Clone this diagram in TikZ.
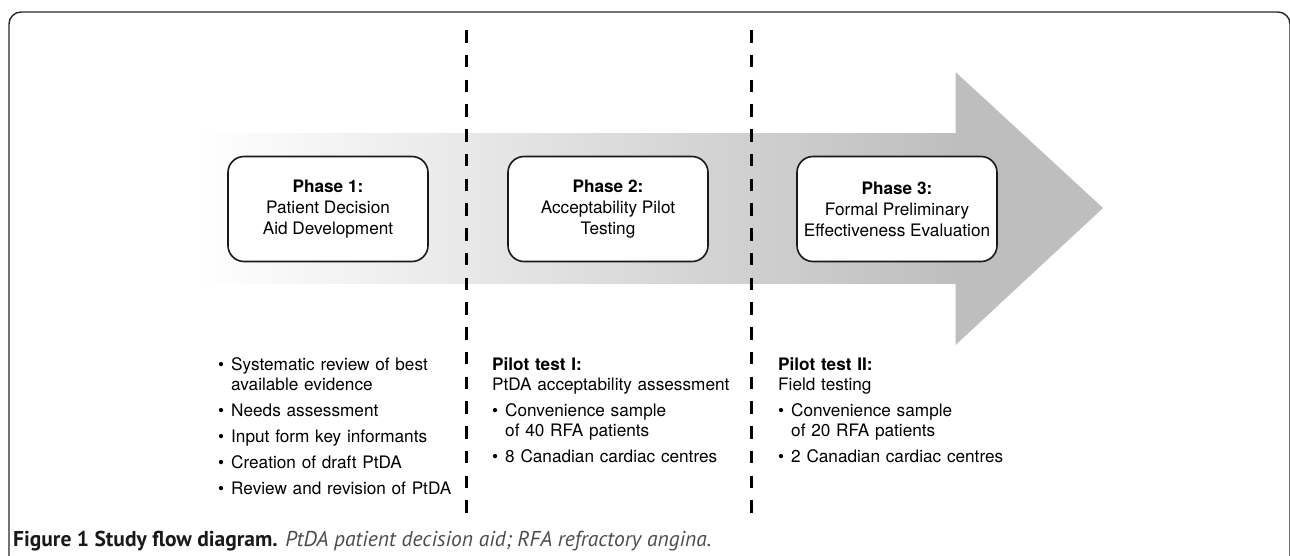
\documentclass[tikz,border=0pt]{standalone}
\usepackage{fontspec}
\setmainfont{TeX Gyre Heros}
\newfontfamily\capfont{PT Sans}
\definecolor{arrowgray}{gray}{0.745}
\newcommand\bul[1]{\makebox[13pt][l]{\textbullet}#1}
\newcommand\ind{\hspace*{13pt}}
\begin{document}
\begin{tikzpicture}[x=1pt,y=-1pt,
  phase/.style={draw=black!90, line width=1.6pt, fill=white, rounded corners=16pt,
    minimum width=200pt, minimum height=105pt, inner sep=0pt, align=center,
    font=\fontsize{17.2}{21}\selectfont},
  divider/.style={line width=3pt, dash pattern=on 12.7pt off 12.05pt, black},
  listtext/.style={anchor=base west, inner sep=0pt, text width=270pt, align=left,
    font=\fontsize{17.2}{20}\selectfont},
  frame/.style={line width=1.4pt, black!85, rounded corners=12pt}
]
\clip (0,0) rectangle (1290,555);
% outer frame
\draw[frame] (9,600) -- (9,12) -- (1290,12) -- (1290,600);
% big arrow
\shade[left color=white, right color=arrowgray] (197,133) rectangle (956,283);
\fill[arrowgray] (955.5,72) -- (1103,208) -- (955.5,345) -- cycle;
% dividers
\coordinate (d1t) at (466,30);
\coordinate (d1b) at (466,518);
\coordinate (d2t) at (751,30);
\coordinate (d2b) at (751,518);
\draw[divider] (d1t) -- (d1b);
\draw[divider] (d2t) -- (d2b);
% phase boxes
\node[phase] (ph1) at (328,209) {\textbf{Phase 1:}\\Patient Decision\\Aid Development};
\node[phase] (ph2) at (608,209) {\textbf{Phase 2:}\\Acceptability Pilot\\Testing};
\node[phase] (ph3) at (897,209) {\textbf{Phase 3:}\\Formal Preliminary\\Effectiveness Evaluation};
% lists
\node[listtext] (list1) at (218,370) {\bul{Systematic review of best}\\\ind available evidence\\[6pt]\bul{Needs assessment}\\[6pt]\bul{Input form key informants}\\[6pt]\bul{Creation of draft PtDA}\\[6pt]\bul{Review and revision of PtDA}};
\node[listtext] (list2) at (492,370) {\textbf{Pilot test I:}\\PtDA acceptability assessment\\[6pt]\bul{Convenience sample}\\\ind of 40 RFA patients\\[6pt]\bul{8 Canadian cardiac centres}};
\node[listtext] (list3) at (778,370) {\textbf{Pilot test II:}\\Field testing\\[6pt]\bul{Convenience sample}\\\ind of 20 RFA patients\\[6pt]\bul{2 Canadian cardiac centres}};
% caption
\node[anchor=base west, inner sep=0pt] (cap) at (13,546) {\capfont\fontsize{21.5}{24}\selectfont\color{black!90}\textbf{Figure 1 Study flow diagram.} {\color{black!70}\textit{PtDA patient decision aid; RFA refractory angina.}}};
\end{tikzpicture}
\end{document}
